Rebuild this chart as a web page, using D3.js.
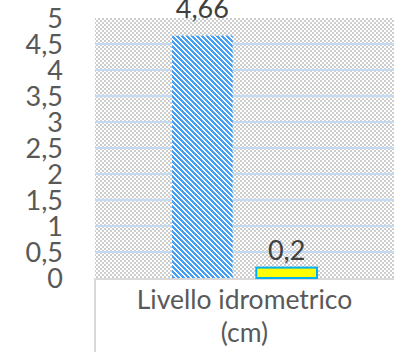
<!DOCTYPE html>
<html>
<head>
<meta charset="utf-8">
<script src="https://cdn.jsdelivr.net/npm/d3@7"></script>
<style>
  body { margin: 0; background: #fff; }
  svg { display: block; font-family: Lato, "Open Sans", sans-serif; }
</style>
</head>
<body>
<svg id="chart" width="394" height="352"></svg>
<script>
// data
let categories = ["Livello idrometrico (cm)"];
let seriesNames = ["Serie 1", "Serie 2"];
let seriesValues = [4.66, 0.2];
let yTicks = [0, 0.5, 1, 1.5, 2, 2.5, 3, 3.5, 4, 4.5, 5];
let yMax = 5;

let chart = d3.select("#chart");
let width = 394, height = 352;
let plotLeft = 95, plotTop = 18, plotBottom = 278;

let it = d3.formatLocale({ decimal: ",", thousands: ".", grouping: [3], currency: ["€", ""] });
let fmt = function(v) { return it.format("~g")(v); };

// scales
let y = d3.scaleLinear().domain([0, yMax]).range([plotBottom, plotTop]);
let x0 = d3.scaleBand().domain(categories).range([plotLeft, width]).paddingOuter(0.531);
let x1 = d3.scaleBand().domain(seriesNames).range([0, x0.bandwidth()]).paddingInner(0.28);

// patterns
let defs = chart.append("defs");
let checker = defs.append("pattern")
    .attr("id", "checker")
    .attr("patternUnits", "userSpaceOnUse")
    .attr("width", 4).attr("height", 4);
checker.append("rect").attr("width", 4).attr("height", 4).attr("fill", "#ffffff");
checker.append("rect").attr("x", 0).attr("y", 0).attr("width", 2).attr("height", 2).attr("fill", "#cdcdcd");
checker.append("rect").attr("x", 2).attr("y", 2).attr("width", 2).attr("height", 2).attr("fill", "#cdcdcd");

let stripes = defs.append("pattern")
    .attr("id", "stripes")
    .attr("patternUnits", "userSpaceOnUse")
    .attr("width", 5).attr("height", 5);
stripes.append("rect").attr("width", 5).attr("height", 5).attr("fill", "#ffffff");
for (let r = 0; r < 5; r++) {
    for (let k = 0; k < 3; k++) {
        stripes.append("rect")
            .attr("x", (r + k) % 5).attr("y", r)
            .attr("width", 1).attr("height", 1)
            .attr("fill", "#479ff5");
    }
}

// plot area background
chart.append("rect")
    .attr("x", plotLeft)
    .attr("y", plotTop)
    .attr("width", width - plotLeft)
    .attr("height", plotBottom - plotTop)
    .attr("fill", "url(#checker)");

// gridlines
chart.selectAll("line.grid")
    .data(yTicks.filter(function(t) { return t > 0 && t < yMax; }))
    .enter()
    .append("line")
    .attr("class", "grid")
    .attr("x1", plotLeft)
    .attr("x2", width)
    .attr("y1", function(d) { return y(d); })
    .attr("y2", function(d) { return y(d); })
    .attr("stroke", "#c3dbf2")
    .attr("stroke-width", 2);

// y tick labels
chart.selectAll("text.ytick")
    .data(yTicks)
    .enter()
    .append("text")
    .attr("class", "ytick")
    .attr("x", 63)
    .attr("y", function(d) { return y(d); })
    .attr("dy", "0.36em")
    .attr("text-anchor", "end")
    .style("font-size", "27px")
    .style("fill", "#595959")
    .text(function(d) { return fmt(d); });

// category axis box
let axisG = chart.append("g");
axisG.append("rect")
    .attr("x", plotLeft)
    .attr("y", plotBottom + 1)
    .attr("width", width - plotLeft + 5)
    .attr("height", height - plotBottom + 5)
    .attr("fill", "#ffffff")
    .attr("stroke", "#d9d9d9")
    .attr("stroke-width", 2);

// bars
let bars = chart.selectAll("rect.bar")
    .data(seriesValues)
    .enter()
    .append("rect")
    .attr("class", "bar")
    .attr("x", function(d, i) { return x0(categories[0]) + x1(seriesNames[i]); })
    .attr("y", function(d) { return y(d); })
    .attr("width", x1.bandwidth())
    .attr("height", function(d) { return plotBottom - y(d); })
    .attr("fill", function(d, i) { return i === 0 ? "url(#stripes)" : "#ffff00"; })
    .attr("stroke", function(d, i) { return i === 0 ? "none" : "#00b0f0"; })
    .attr("stroke-width", 2);

// value labels
chart.selectAll("text.value")
    .data(seriesValues)
    .enter()
    .append("text")
    .attr("class", "value")
    .attr("x", function(d, i) { return x0(categories[0]) + x1(seriesNames[i]) + x1.bandwidth() / 2; })
    .attr("y", function(d) { return d >= 4.5 ? y(yMax) : y(d) - 8; })
    .attr("text-anchor", "middle")
    .style("font-size", "27px")
    .style("fill", "#404040")
    .text(function(d) { return fmt(d); });

// category label (two lines)
let catLabel = axisG.append("text")
    .attr("x", x0(categories[0]) + x0.bandwidth() / 2)
    .attr("text-anchor", "middle")
    .style("font-size", "26.5px")
    .style("fill", "#595959");
catLabel.append("tspan")
    .attr("x", x0(categories[0]) + x0.bandwidth() / 2)
    .attr("y", 309)
    .text("Livello idrometrico");
catLabel.append("tspan")
    .attr("x", x0(categories[0]) + x0.bandwidth() / 2)
    .attr("y", 342)
    .text("(cm)");
</script>
</body>
</html>
